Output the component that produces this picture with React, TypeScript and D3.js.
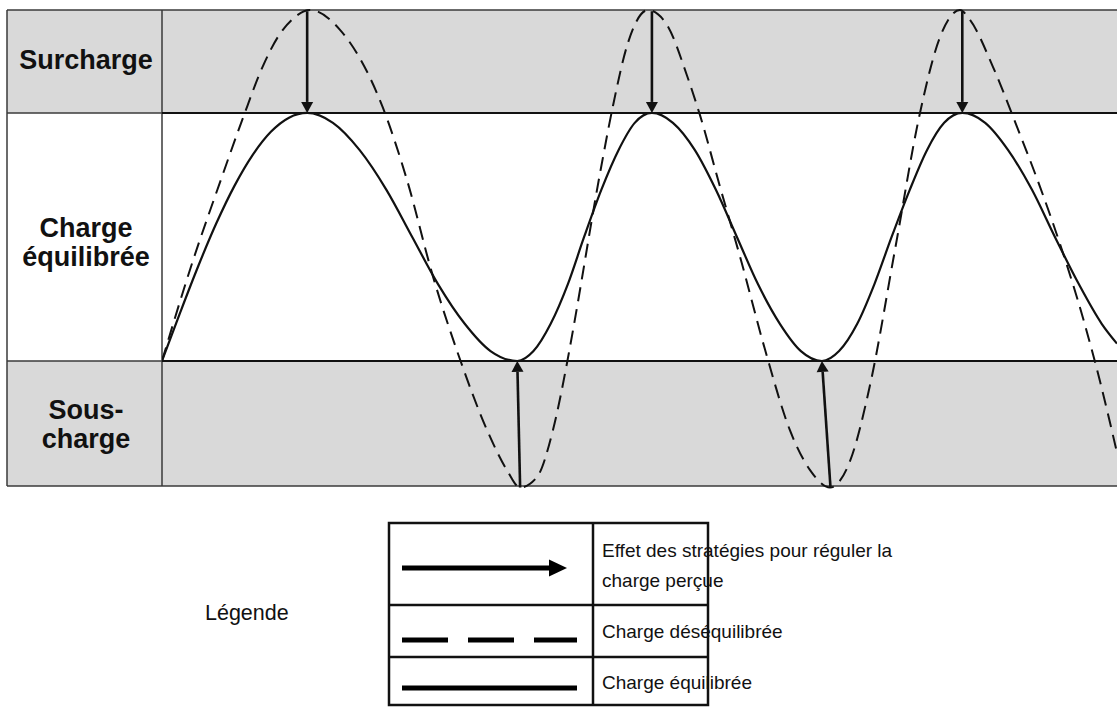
import { useMemo } from 'react';
import * as d3 from 'd3';

// time axis (arbitrary units 0..100) and load level (0 = bottom of balanced band, 100 = top)
const solidX = [0, 1.9, 3.8, 5.7, 7.6, 9.5, 11.4, 13.3, 15.2, 17.9, 20.7, 23.5, 26.2, 28.9, 31.7, 34.4, 37.2, 38.9, 40.7, 42.5, 44.2, 46.0, 47.8, 49.5, 51.3, 53.5, 55.8, 58.0, 60.2, 62.4, 64.7, 66.9, 69.1, 70.9, 72.8, 74.6, 76.4, 78.3, 80.1, 81.9, 83.8, 86.2, 88.6, 91.1, 93.5, 96.0, 98.4, 100];
const solidY = [0, 19.5, 38.3, 55.6, 70.7, 83.1, 92.4, 98.1, 100, 96, 85, 69, 50, 31, 15, 4, 0, 4, 15, 31, 50, 69, 85, 96, 100, 96, 85, 69, 50, 31, 15, 4, 0, 4, 15, 31, 50, 69, 85, 96, 100, 96, 85, 69, 50, 31, 15, 7];

const dashX = [0, 3.2, 6.07, 8.48, 10.58, 12.2, 13.72, 15.5, 18.64, 23.14, 25.65, 28.38, 31.31, 34.03, 36.12, 37.49, 39.27, 40.94, 42.41, 43.04, 45.87, 47.23, 48.69, 50.89, 52.88, 54.98, 56.34, 58.43, 60.53, 63.15, 65.76, 67.86, 69.95, 72.05, 74.14, 76.76, 79.37, 81.47, 83.56, 84.61, 87.02, 89.53, 91.94, 94.03, 96.44, 98.22, 100];
const dashY = [0, 40, 72, 98, 119, 131, 138, 141.5, 133.5, 102, 73, 34, -0.5, -27.8, -44, -51, -46.8, -27.8, -0.8, 12.5, 75.8, 103, 127, 141.5, 135.5, 115, 99, 70.2, 42, 4.5, -28, -44, -51, -40.3, -9.7, 45, 100, 130.6, 141.5, 137.5, 118.5, 94.4, 70.2, 47.2, 17.3, -8.2, -37];

// strategy arrows: from unbalanced level back to balanced limit
const arrowX0 = [15.2, 37.5, 51.3, 70.0, 83.8];
const arrowX1 = [15.2, 37.2, 51.3, 69.1, 83.8];
const arrowFrom = [141, -51, 141, -51, 141];
const arrowTo = [100, 0, 100, 0, 100];

const bandNames = [['Surcharge'], ['Charge', 'équilibrée'], ['Sous-', 'charge']];
const bandLo = [100, 0, -50.4];
const bandHi = [141.5, 100, 0];

const legendTitle = 'Légende';
const legendKinds = ['arrow', 'dash', 'solid'];
const legendLabels = [['Effet des stratégies pour réguler la', 'charge perçue'], ['Charge déséquilibrée'], ['Charge équilibrée']];

const W = 1117;
const H = 707;
const FONT = '"Liberation Sans", Arial, sans-serif';
// first-line baseline of each band label
const labelBase = [69, 237, 419];

function arrowPath(x0: number, y0: number, x1: number, y1: number, len: number, half: number) {
  const dx = x1 - x0;
  const dy = y1 - y0;
  const d = Math.hypot(dx, dy);
  const ux = dx / d;
  const uy = dy / d;
  const bx = x1 - ux * len;
  const by = y1 - uy * len;
  return {
    shaft: [x0, y0, bx, by],
    head: `M${x1},${y1}L${bx - uy * half},${by + ux * half}L${bx + uy * half},${by - ux * half}Z`,
  };
}

export default function App() {
  const x = useMemo(() => d3.scaleLinear().domain([0, 100]).range([162, 1117]), []);
  const y = useMemo(() => d3.scaleLinear().domain([-50.4, 141.5]).range([486, 10]), []);

  const line = d3.line<[number, number]>()
    .x(d => x(d[0]))
    .y(d => y(d[1]))
    .curve(d3.curveMonotoneX);

  const solid = solidX.map((v, i) => [v, solidY[i]] as [number, number]);
  const dashed = dashX.map((v, i) => [v, dashY[i]] as [number, number]);

  const left = 7;
  const colX = x(0);

  // legend table layout
  const lg = { left: 389, mid: 593, right: 708, rows: [523, 605, 657, 705] };

  return (
    <svg width={W} height={H} style={{ position: 'absolute', left: 0, top: 0, background: '#fff' }} fontFamily={FONT}>
      <defs>
        <clipPath id="plot">
          <rect x={colX} y={0} width={W - colX} height={500} />
        </clipPath>
      </defs>

      {/* bands */}
      {bandNames.map((names, i) => {
        const top = y(bandHi[i]);
        const bot = y(bandLo[i]);
        return (
          <g key={i}>
            <rect x={left} y={top} width={W - left + 5} height={bot - top} fill={i === 1 ? '#ffffff' : '#d9d9d9'} />
            {names.map((t, j) => (
              <text key={j} x={86} y={labelBase[i] + j * 29}
                textAnchor="middle" fontSize={27} fontWeight="bold" fill="#111">{t}</text>
            ))}
          </g>
        );
      })}

      {/* table grid */}
      <g stroke="#3a3a3a" strokeWidth={1.5} fill="none">
        <line x1={left} x2={W + 5} y1={y(141.5)} y2={y(141.5)} />
        <line x1={left} x2={W + 5} y1={y(-50.4)} y2={y(-50.4)} />
        <line x1={left} x2={left} y1={y(141.5)} y2={y(-50.4)} />
        <line x1={colX} x2={colX} y1={y(141.5)} y2={y(-50.4)} />
        <line x1={left} x2={colX} y1={y(100)} y2={y(100)} />
        <line x1={left} x2={colX} y1={y(0)} y2={y(0)} />
      </g>
      <g stroke="#111" strokeWidth={2} fill="none">
        <line x1={colX} x2={W + 5} y1={y(100)} y2={y(100)} />
        <line x1={colX} x2={W + 5} y1={y(0)} y2={y(0)} />
      </g>

      {/* curves */}
      <g clipPath="url(#plot)" fill="none">
        <path d={line(dashed) ?? ''} stroke="#111" strokeWidth={2} strokeDasharray="14 8" />
        <path d={line(solid) ?? ''} stroke="#111" strokeWidth={2.2} />
      </g>

      {/* arrows */}
      {arrowX0.map((_, i) => {
        const a = arrowPath(x(arrowX0[i]), y(arrowFrom[i]), x(arrowX1[i]), y(arrowTo[i]), 11, 6);
        return (
          <g key={i}>
            <line x1={a.shaft[0]} y1={a.shaft[1]} x2={a.shaft[2]} y2={a.shaft[3]} stroke="#111" strokeWidth={2.6} />
            <path d={a.head} fill="#111" />
          </g>
        );
      })}

      {/* legend */}
      <text x={205} y={620} fontSize={21.5} fill="#111">{legendTitle}</text>
      <g stroke="#111" strokeWidth={2.5} fill="none">
        <rect x={lg.left} y={lg.rows[0]} width={lg.right - lg.left} height={lg.rows[3] - lg.rows[0]} />
        <line x1={lg.mid} x2={lg.mid} y1={lg.rows[0]} y2={lg.rows[3]} />
        <line x1={lg.left} x2={lg.right} y1={lg.rows[1]} y2={lg.rows[1]} />
        <line x1={lg.left} x2={lg.right} y1={lg.rows[2]} y2={lg.rows[2]} />
      </g>
      {legendKinds.map((k, i) => {
        const top = lg.rows[i];
        const bot = lg.rows[i + 1];
        const sy = k === 'arrow' ? (top + bot) / 2 + 4 : bot - 17;
        const x0 = 402;
        const x1 = 577;
        let sym;
        if (k === 'arrow') {
          const a = arrowPath(x0, sy, 567, sy, 18, 8.5);
          sym = (
            <g>
              <line x1={a.shaft[0]} y1={sy} x2={a.shaft[2] + 1} y2={sy} stroke="#000" strokeWidth={5} />
              <path d={a.head} fill="#000" />
            </g>
          );
        } else {
          sym = <line x1={x0} x2={x1} y1={sy} y2={sy} stroke="#000" strokeWidth={5}
            strokeDasharray={k === 'dash' ? '46 20' : undefined} />;
        }
        const lines = legendLabels[i];
        const baseY = lines.length === 2 ? top + 34 : bot - (i === 2 ? 16 : 19);
        return (
          <g key={k}>
            {sym}
            {lines.map((t, j) => (
              <text key={j} x={602} y={baseY + j * 30} fontSize={19} fill="#111">{t}</text>
            ))}
          </g>
        );
      })}
    </svg>
  );
}
